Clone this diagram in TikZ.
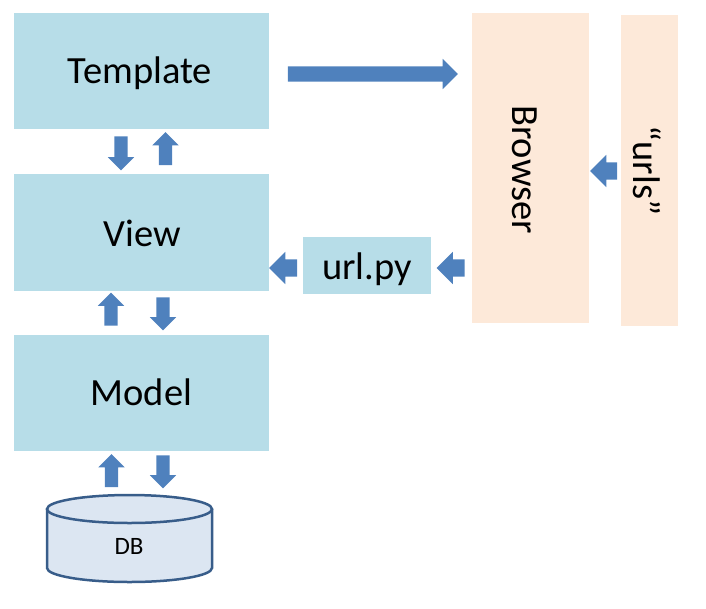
\documentclass[tikz,border=0pt]{standalone}
\usepackage{fontspec}
\setmainfont{Carlito}
\usetikzlibrary{shapes.arrows}
\definecolor{boxblue}{HTML}{B7DDE8}
\definecolor{peach}{HTML}{FDE9D9}
\definecolor{arrowblue}{HTML}{4F81BD}
\definecolor{dbfill}{HTML}{DCE6F2}
\definecolor{dbline}{HTML}{385D8A}
\tikzset{
  bigfont/.style={font=\fontsize{38.5}{42}\selectfont, text height=24.5pt, text depth=0pt},
  bluebox/.style={fill=boxblue, draw=none, inner sep=0pt, bigfont},
  peachbox/.style={fill=peach, draw=none, inner sep=0pt, bigfont},
  varrow/.style={single arrow, fill=arrowblue, draw=none, inner xsep=0pt, inner ysep=6.5pt,
    single arrow head extend=6.5pt, minimum height=33pt},
  harrow/.style={single arrow, fill=arrowblue, draw=none, inner xsep=0pt, inner ysep=8.5pt,
    single arrow head extend=7.5pt, minimum height=28pt},
  bigarrow/.style={single arrow, fill=arrowblue, draw=none, inner xsep=0pt, inner ysep=7.5pt,
    single arrow head extend=7.5pt, minimum height=170pt},
}
\begin{document}
\begin{tikzpicture}[x=1pt,y=-1pt]
\useasboundingbox (0,0) rectangle (706,608);
% boxes
\node[bluebox, minimum width=255pt, minimum height=116pt] (template) at (141.5,71) {};
\node[bigfont] (templatetext) at (140,71) {Template};
\node[bluebox, minimum width=255pt, minimum height=117pt] (view) at (141.5,232.5) {};
\node[bigfont] (viewtext) at (142,234.5) {View};
\node[bluebox, minimum width=255pt, minimum height=116pt] (model) at (141.5,393) {};
\node[bigfont] (modeltext) at (141.5,393) {Model};
\node[bluebox, minimum width=128pt, minimum height=57pt] (urlpy) at (367,265.5) {};
\node[bigfont] (urlpytext) at (367,267) {url.py};
\node[peachbox, rotate=-90, minimum width=310pt, minimum height=117pt] (browser) at (530.5,168) {};
\node[bigfont, rotate=-90] (browsertext) at (525,169.5) {Browser};
\node[peachbox, rotate=-90, minimum width=311pt, minimum height=57pt] (urls) at (649.5,170.5) {};
\node[bigfont, rotate=-90] (urlstext) at (646,170.5) {“urls”};
% arrows
\node[bigarrow] (a1) at (369,74) {};
\node[varrow, rotate=-90, minimum height=34pt] (a2) at (121,150) {};
\node[varrow, rotate=90] (a3) at (165.5,152) {};
\node[varrow, rotate=90] (a4) at (111,312.5) {};
\node[varrow, rotate=-90] (a5) at (163,310.5) {};
\node[varrow, rotate=90] (a6) at (111.5,474) {};
\node[varrow, rotate=-90] (a7) at (163,468.5) {};
\node[harrow, rotate=180] (a8) at (287.5,268) {};
\node[harrow, rotate=180] (a9) at (455,268) {};
\node[harrow, rotate=180, minimum height=27pt] (a10) at (608,171) {};
% database cylinder
\fill[dbfill] (47,509) rectangle (212,568);
\fill[dbfill] (129.5,568) ellipse [x radius=82.5, y radius=14];
\draw[dbline, line width=2.5pt] (47,509) -- (47,568) arc [start angle=180, end angle=0, x radius=82.5, y radius=14] -- (212,509);
\draw[dbline, line width=2.5pt, fill=dbfill] (129.5,509) ellipse [x radius=82.5, y radius=14];
\node[font=\fontsize{25}{28}\selectfont, text height=16pt, text depth=0pt, inner sep=0pt] (db) at (129,546) {DB};
\end{tikzpicture}
\end{document}
